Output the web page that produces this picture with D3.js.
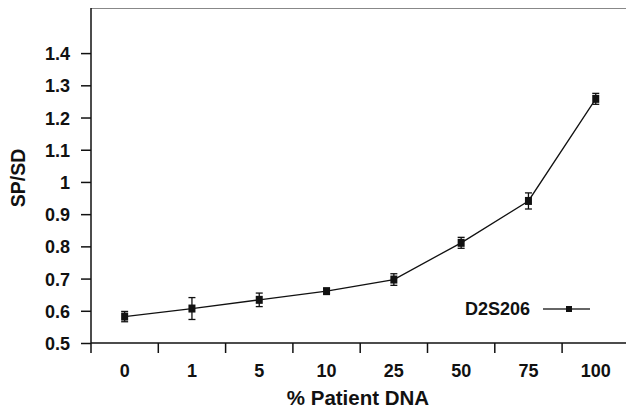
<!DOCTYPE html>
<html>
<head>
<meta charset="utf-8">
<script src="https://cdn.jsdelivr.net/npm/d3@7"></script>
<style>
  body { margin: 0; background: #fff; }
  svg text { font-family: "Liberation Sans", Arial, Helvetica, sans-serif; font-weight: bold; fill: #111; }
</style>
</head>
<body>
<div id="container"></div>
<script>
// données
const categories = ['0', '1', '5', '10', '25', '50', '75', '100']
const values = [0.582, 0.607, 0.634, 0.661, 0.697, 0.811, 0.941, 1.258]
const errors = [0.016, 0.034, 0.021, 0.008, 0.018, 0.017, 0.025, 0.017]
const yTicks = [0.5, 0.6, 0.7, 0.8, 0.9, 1, 1.1, 1.2, 1.3, 1.4]
const seriesName = 'D2S206'

const width = 626, height = 412
const plotLeft = 91, plotTop = 8, plotBottom = 343
const bandWidth = 67.3

const svg = d3.select('#container').append('svg')
  .attr('width', width)
  .attr('height', height)

const x = d3.scaleBand()
  .domain(categories)
  .range([plotLeft, plotLeft + bandWidth * categories.length])

const y = d3.scaleLinear()
  .domain([0.5, 1.54])
  .range([plotBottom, plotTop])

// ligne du haut (grise)
svg.append('line')
  .attr('x1', plotLeft).attr('x2', width)
  .attr('y1', plotTop + 0.5).attr('y2', plotTop + 0.5)
  .attr('stroke', '#888').attr('stroke-width', 1.2)

// axe Y
const yAxis = svg.append('g')
  .attr('transform', `translate(${plotLeft},0)`)
  .call(d3.axisLeft(y).tickValues(yTicks).tickSize(10).tickPadding(11)
    .tickFormat(d => String(d)))
yAxis.select('.domain').remove()
yAxis.selectAll('line').attr('stroke', '#111').attr('stroke-width', 1.5)
yAxis.selectAll('text').attr('font-size', 18).attr('dy', '0.36em')

svg.append('line')
  .attr('x1', plotLeft).attr('x2', plotLeft)
  .attr('y1', plotTop).attr('y2', plotBottom)
  .attr('stroke', '#111').attr('stroke-width', 1.5)

// axe X
svg.append('line')
  .attr('x1', plotLeft).attr('x2', width)
  .attr('y1', plotBottom).attr('y2', plotBottom)
  .attr('stroke', '#111').attr('stroke-width', 1.5)

categories.forEach(c => {
  svg.append('line')
    .attr('x1', x(c)).attr('x2', x(c))
    .attr('y1', plotBottom).attr('y2', plotBottom + 10)
    .attr('stroke', '#111').attr('stroke-width', 1.5)
  svg.append('text')
    .attr('x', x(c) + x.bandwidth() / 2)
    .attr('y', 377)
    .attr('text-anchor', 'middle')
    .attr('font-size', 18)
    .text(c)
})

// titres des axes
svg.append('text')
  .attr('x', 358).attr('y', 405)
  .attr('text-anchor', 'middle')
  .attr('font-size', 20.5)
  .text('% Patient DNA')

svg.append('text')
  .attr('transform', 'translate(25,178) rotate(-90)')
  .attr('text-anchor', 'middle')
  .attr('font-size', 19.5)
  .text('SP/SD')

// courbe
const cx = i => x(categories[i]) + x.bandwidth() / 2
const line = d3.line()
  .x((d, i) => cx(i))
  .y(d => y(d))

svg.append('path')
  .datum(values)
  .attr('d', line)
  .attr('fill', 'none')
  .attr('stroke', '#111')
  .attr('stroke-width', 1.3)

// barres d'erreur + marqueurs
values.forEach((v, i) => {
  const g = svg.append('g').attr('stroke', '#111').attr('stroke-width', 1.3)
  g.append('line')
    .attr('x1', cx(i)).attr('x2', cx(i))
    .attr('y1', y(v + errors[i])).attr('y2', y(v - errors[i]))
  g.append('line')
    .attr('x1', cx(i) - 3.5).attr('x2', cx(i) + 3.5)
    .attr('y1', y(v + errors[i])).attr('y2', y(v + errors[i]))
  g.append('line')
    .attr('x1', cx(i) - 3.5).attr('x2', cx(i) + 3.5)
    .attr('y1', y(v - errors[i])).attr('y2', y(v - errors[i]))
  svg.append('rect')
    .attr('x', cx(i) - 3.5).attr('y', y(v) - 4)
    .attr('width', 7).attr('height', 8)
    .attr('fill', '#111')
})

// légende
svg.append('text')
  .attr('x', 530).attr('y', 315)
  .attr('text-anchor', 'end')
  .attr('font-size', 18)
  .text(seriesName)
svg.append('line')
  .attr('x1', 543).attr('x2', 590)
  .attr('y1', 309).attr('y2', 309)
  .attr('stroke', '#333').attr('stroke-width', 1.3)
svg.append('rect')
  .attr('x', 566).attr('y', 306)
  .attr('width', 6).attr('height', 6)
  .attr('fill', '#111')
</script>
</body>
</html>
